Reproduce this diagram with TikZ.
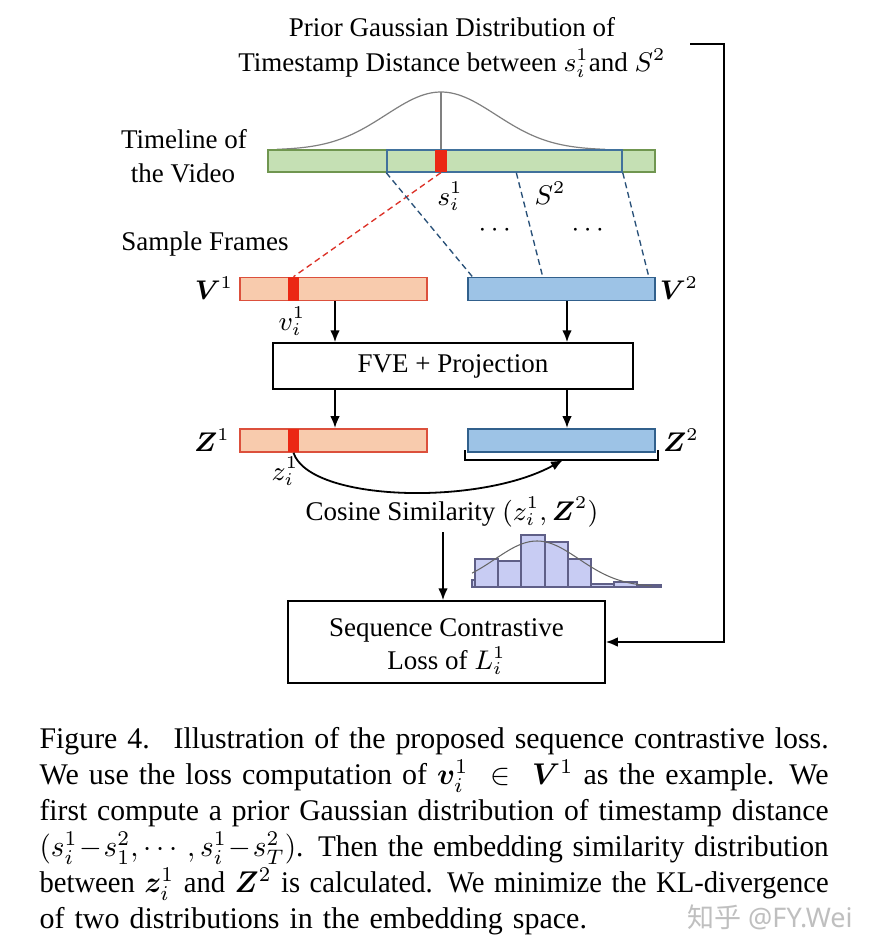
\documentclass[tikz,border=0pt]{standalone}
\usepackage{amsmath}
\usepackage{bm}
\usepackage{graphicx}
\usepackage[no-math]{fontspec}
\setmainfont{Liberation Serif}
\newfontfamily\cjkfont{Noto Sans CJK SC}
\newfontfamily\wmfont{Noto Sans}
\usetikzlibrary{arrows.meta,calc}
\definecolor{tlfill}{RGB}{197,224,180}
\definecolor{tldraw}{RGB}{112,150,80}
\definecolor{sdraw}{RGB}{65,113,156}
\definecolor{mred}{RGB}{235,40,20}
\definecolor{vfill}{RGB}{248,203,173}
\definecolor{vdraw}{RGB}{220,80,60}
\definecolor{bfill}{RGB}{157,195,230}
\definecolor{bdraw}{RGB}{49,96,140}
\definecolor{dblue}{RGB}{40,80,120}
\definecolor{dred}{RGB}{220,50,40}
\definecolor{hfill}{RGB}{200,204,243}
\definecolor{hdraw}{RGB}{95,95,135}
\newcommand\capline[1]{\sbox0{#1}\ifdim\wd0>263pt\relax\resizebox{263pt}{\height}{#1}\else\makebox[263pt][s]{#1}\fi}
\tikzset{
  lbl/.style={inner sep=0pt, font=\fontsize{9}{11}\selectfont},
  tlbar/.style={draw=tldraw, fill=tlfill, line width=0.5pt, inner sep=0pt, minimum height=7.33pt},
  s2bar/.style={draw=sdraw, line width=0.5pt, inner sep=0pt, minimum height=7.33pt},
  redmark/.style={fill=mred, draw=none, inner sep=0pt, minimum width=3.8pt},
  vbar/.style={draw=vdraw, fill=vfill, line width=0.5pt, inner sep=0pt, minimum width=62.33pt, minimum height=7.8pt},
  bbar/.style={draw=bdraw, fill=bfill, line width=0.5pt, inner sep=0pt, minimum width=62.33pt, minimum height=7.8pt},
  plainbox/.style={draw=black, line width=0.5pt, inner sep=0pt, font=\fontsize{9}{11}\selectfont, align=center},
  arr/.style={-{Latex[length=4pt,width=3.2pt]}, line width=0.6pt},
  bdash/.style={draw=dblue, line width=0.45pt, dash pattern=on 2pt off 1.3pt},
  rdash/.style={draw=dred, line width=0.45pt, dash pattern=on 2pt off 1.3pt},
  gcurve/.style={draw=black!50, line width=0.4pt},
  hbar/.style={fill=hfill, draw=hdraw, line width=0.35pt},
  hcurve/.style={draw=black!60, line width=0.35pt}
}
\begin{document}
\begin{tikzpicture}[x=0.333333pt,y=-0.333333pt]
\useasboundingbox (0,0) rectangle (875,951);
\fill[white] (0,0) rectangle (875,951);

% title
\node[lbl, anchor=base] (title1) at (452,37) {Prior Gaussian Distribution of};
\node[lbl, anchor=base] (title2) at (452,72) {Timestamp Distance between $s_i^1$and $S^2$};

% left labels
\node[lbl, anchor=base] (tlA) at (184,149) {Timeline of};
\node[lbl, anchor=base] (tlB) at (183,182) {the Video};
\node[lbl, anchor=base] (sf) at (205,250) {Sample Frames};

% gaussian prior
\coordinate (gpk) at (441,92);
\draw[gcurve] plot[domain=277:605, samples=90] (\x,{150-58*exp(-0.5*((\x-441)/55)*((\x-441)/55))});

% timeline
\node[tlbar, minimum width=129pt] (tl) at (461.5,161) {};
\node[s2bar, minimum width=78.33pt] (s2) at (504.5,161) {};
\node[redmark, minimum height=7.33pt] (sm) at (441,161) {};
\draw[gcurve] (gpk) -- (sm.north);

\node[lbl] (slab) at (450,196) {$s_i^1$};
\node[lbl] (Slab) at (550,193) {$S^2$};
\node[lbl] (dotsA) at (497,230) {$\cdots$};
\node[lbl] (dotsB) at (590,230) {$\cdots$};

% V rows
\node[vbar] (v1) at (333.5,289) {};
\node[redmark, minimum height=7.8pt] (v1m) at (293.5,289) {};
\node[bbar] (v2) at (561.5,289) {};
\node[lbl] (V1lab) at (214,288) {$\bm{V}^1$};
\node[lbl] (V2lab) at (679,288) {$\bm{V}^2$};
\node[lbl] (vlab) at (292,321) {$v_i^1$};

% dashed links
\draw[rdash] (sm.south) -- (v1m.north);
\draw[bdash] (s2.south west) -- ($(v2.north west)+(5,0)$);
\draw[bdash] ($(s2.south west)!0.55!(s2.south east)$) -- ($(v2.north west)!0.4!(v2.north east)$);
\draw[bdash] (s2.south east) -- ($(v2.north east)+(-7,0)$);

% FVE
\node[plainbox, minimum width=120pt, minimum height=15.33pt] (fve) at (453,366) {FVE + Projection};

% Z rows
\node[vbar] (z1) at (333.5,440.5) {};
\node[redmark, minimum height=7.8pt] (z1m) at (293.5,440.5) {};
\node[bbar] (z2) at (561.5,440.5) {};
\node[lbl] (Z1lab) at (212,440) {$\bm{Z}^1$};
\node[lbl] (Z2lab) at (681,440) {$\bm{Z}^2$};
\node[lbl] (zlab) at (285,471) {$z_i^1$};

% vertical arrows
\coordinate (a1) at ($(v1.south)+(1.5,0)$);
\coordinate (a2) at ($(v2.south)+(5.5,0)$);
\draw[arr] (a1) -- (a1 |- fve.north);
\draw[arr] (a2) -- (a2 |- fve.north);
\draw[arr] (a1 |- fve.south) -- (a1 |- z1.north);
\draw[arr] (a2 |- fve.south) -- (a2 |- z2.north);

% bracket under Z2
\coordinate (brc) at (563,460);
\draw[line width=0.85pt] (465,450) -- (465,460) -- (658,460) -- (658,450);
\draw[arr] (z1m.south) .. controls (310,502) and (480,506) .. (brc);

% cosine similarity
\node[lbl, anchor=base] (cos) at (452,520) {Cosine Similarity $(z_i^1, \bm{Z}^2)$};

% histogram
\foreach \a/\b/\t in {472/475/580, 475/498/559, 498/521/561, 521/545/535, 545/568/542, 568/591/559, 591/614/584, 614/637/582, 637/661/585}
  {\draw[hbar] (\a,587) rectangle (\b,\t);}
\draw[hcurve] plot[domain=472:652, samples=70] (\x,{587-46*exp(-0.5*((\x-537)/42)*((\x-537)/42))});

% loss box
\node[plainbox, minimum width=105.67pt, minimum height=27.33pt] (loss) at (446.5,642) {\rule{0pt}{9pt}Sequence Contrastive\\Loss of $L_i^1$};
\coordinate (ca) at (443,532);
\draw[arr] (ca) -- (ca |- loss.north);

% feedback line
\coordinate (fb) at (690,44);
\coordinate (fbc) at (724,44);
\draw[arr] (fb) -- (fbc) |- (loss.east);

% caption
\node[anchor=north west, inner sep=0pt, text width=263pt, font=\fontsize{10}{12}\selectfont] (cap) at (39,727) {%
\capline{Figure 4.\hspace{3pt} Illustration of the proposed sequence contrastive loss.}\\
\capline{We use the loss computation of $\bm{v}_i^1 \in \bm{V}^1$ as the example. We}\\
\capline{first compute a prior Gaussian distribution of timestamp distance}\\
\capline{$(s_i^1\!-\!s_1^2, \cdots, s_i^1\!-\!s_T^2)$. Then the embedding similarity distribution}\\
\capline{between $\bm{z}_i^1$ and $\bm{Z}^2$ is calculated. We minimize the KL-divergence}\\
of two distributions in the embedding space.};

% watermark
\node[inner sep=0pt, text=black!25, font=\fontsize{9}{11}\selectfont] (wm) at (770,917) {{\cjkfont 知乎} {\wmfont @FY.Wei}};
\end{tikzpicture}
\end{document}
